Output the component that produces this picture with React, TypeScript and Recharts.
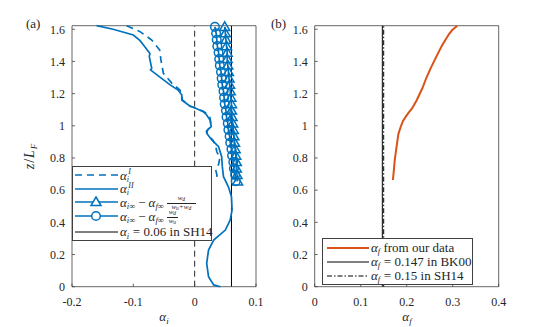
import React from 'react';
import { ScatterChart, Scatter, XAxis, YAxis, ReferenceLine, Legend } from 'recharts';

// ---------- data ----------
const zI = [1.622, 1.585, 1.533, 1.471, 1.409, 1.326, 1.264, 1.222, 1.19, 1.16, 1.123, 1.09, 1.07, 1.05, 1.0, 0.965, 0.94, 0.91, 0.88, 0.84, 0.8, 0.76, 0.73, 0.7, 0.665];
const aI = [-0.111, -0.089, -0.07, -0.057, -0.055, -0.051, -0.037, -0.024, -0.021, -0.02, -0.008, 0.014, 0.022, 0.025, 0.027, 0.019, 0.022, 0.03, 0.034, 0.036, 0.041, 0.039, 0.034, 0.036, 0.037];

const zII = [1.622, 1.6, 1.564, 1.529, 1.49, 1.45, 1.43, 1.357, 1.347, 1.295, 1.254, 1.222, 1.191, 1.16, 1.123, 1.115, 1.088, 1.067, 1.036, 0.994, 0.974, 0.953, 0.912, 0.87, 0.808, 0.75, 0.684, 0.621, 0.559, 0.477, 0.415, 0.352, 0.29, 0.228, 0.145, 0.062, 0.011, 0];
const aII = [-0.16, -0.133, -0.1, -0.089, -0.081, -0.073, -0.074, -0.07, -0.072, -0.054, -0.04, -0.027, -0.021, -0.021, -0.008, -0.002, 0.014, 0.0196, 0.025, 0.027, 0.021, 0.0196, 0.028, 0.039, 0.044, 0.045, 0.047, 0.055, 0.06, 0.061, 0.058, 0.05, 0.031, 0.0226, 0.0196, 0.0226, 0.031, 0.042];

const zMark = [0.655, 0.695, 0.735, 0.775, 0.815, 0.855, 0.895, 0.935, 0.975, 1.015, 1.055, 1.095, 1.135, 1.175, 1.215, 1.255, 1.295, 1.335, 1.375, 1.415, 1.455, 1.495, 1.535, 1.575, 1.615];
const aTri = [0.07, 0.069, 0.068, 0.068, 0.067, 0.066, 0.065, 0.064, 0.063, 0.062, 0.061, 0.06, 0.06, 0.059, 0.058, 0.057, 0.056, 0.055, 0.054, 0.053, 0.053, 0.052, 0.051, 0.05, 0.049];
const aCirc = [0.067, 0.066, 0.064, 0.063, 0.061, 0.06, 0.058, 0.057, 0.055, 0.054, 0.052, 0.051, 0.049, 0.048, 0.047, 0.045, 0.044, 0.043, 0.041, 0.04, 0.039, 0.037, 0.036, 0.035, 0.033];

const zF = [0.663, 0.72, 0.787, 0.85, 0.891, 0.95, 0.994, 1.03, 1.057, 1.085, 1.109, 1.16, 1.233, 1.3, 1.357, 1.41, 1.45, 1.5, 1.533, 1.57, 1.595, 1.622];
const aF = [0.17, 0.172, 0.174, 0.177, 0.179, 0.182, 0.187, 0.192, 0.198, 0.205, 0.212, 0.222, 0.234, 0.243, 0.252, 0.261, 0.268, 0.277, 0.284, 0.292, 0.299, 0.31];

const refAlphaI = [0, 0.06];
const refAlphaF = [0.147, 0.15];

const zTicks = [0, 0.2, 0.4, 0.6, 0.8, 1, 1.2, 1.4, 1.6];
const xTicksA = [-0.2, -0.1, 0, 0.1];
const xTicksB = [0, 0.1, 0.2, 0.3, 0.4];
const zDomain = [0, 1.622];

const pts = (xs: number[], zs: number[]) => xs.map((x, i) => ({ x, z: zs[i] }));

// ---------- style ----------
const BLUE = '#0072BD';
const ORANGE = '#D95319';
const AX = '#262626';
const FONT = "'Liberation Serif', 'DejaVu Serif', serif";
const tickStyle = { fontSize: 12, fill: AX, fontFamily: FONT };
const axLine = { stroke: '#404040', strokeWidth: 0.8 };
const LW = 1.7;

const NoMark = () => <g />;
const Tri = (p: any) => (
  <path d={`M${p.cx},${p.cy - 5} L${p.cx + 5},${p.cy + 3.6} L${p.cx - 5},${p.cy + 3.6} Z`} fill="none" stroke={BLUE} strokeWidth={1.5} />
);
const Circ = (p: any) => <circle cx={p.cx} cy={p.cy} r={4.3} fill="none" stroke={BLUE} strokeWidth={1.5} />;

// ---------- math text helpers ----------
const It = ({ children }: any) => <span style={{ fontStyle: 'italic' }}>{children}</span>;
const Sb = ({ children, size = 8.5, dy = 2.5 }: any) => (
  <span style={{ fontSize: size, lineHeight: `${size}px`, position: 'relative', top: dy, fontStyle: 'italic' }}>{children}</span>
);
const Eq = () => <span style={{ margin: '0 3.5px' }}>=</span>;
const Minus = () => <span style={{ margin: '0 3px' }}>−</span>;
const SubSup = ({ sub, sup, width }: any) => (
  <span style={{ position: 'relative', display: 'inline-block', width, height: 12, fontStyle: 'italic', fontSize: 8, lineHeight: '8px' }}>
    <span style={{ position: 'absolute', left: 1.5, top: 0.5 }}>{sup}</span>
    <span style={{ position: 'absolute', left: 0, top: 8 }}>{sub}</span>
  </span>
);
const Frac = ({ num, den, width }: any) => (
  <span style={{ position: 'relative', display: 'inline-block', width, height: 12, fontSize: 7, lineHeight: '7px', marginLeft: 3 }}>
    <span style={{ position: 'absolute', left: 0, right: 0, top: 0, textAlign: 'center' }}>{num}</span>
    <span style={{ position: 'absolute', left: 0, right: 0, top: 8, borderTop: '0.7px solid #262626' }} />
    <span style={{ position: 'absolute', left: 0, right: 0, top: 9, textAlign: 'center', whiteSpace: 'nowrap' }}>{den}</span>
  </span>
);
const w = (s: string) => (
  <span>
    <It>w</It>
    <span style={{ fontSize: 5.5, lineHeight: '5.5px', position: 'relative', top: 1, fontStyle: 'italic' }}>{s}</span>
  </span>
);

const Sample = ({ stroke, width = LW, dash, marker, x1 = 2, x2 = 45, mx = 23 }: any) => (
  <svg width={x2 + 2} height={12} style={{ display: 'block', flex: 'none' }}>
    <line x1={x1} x2={x2} y1={6} y2={6} stroke={stroke} strokeWidth={width} strokeDasharray={dash} />
    {marker === 'tri' && <path d={`M${mx},1 L${mx + 5},9.6 L${mx - 5},9.6 Z`} fill="#fff" stroke={BLUE} strokeWidth={1.5} />}
    {marker === 'circ' && <circle cx={mx} cy={6} r={4.3} fill="#fff" stroke={BLUE} strokeWidth={1.5} />}
  </svg>
);

const Row = ({ cy, children }: any) => (
  <div style={{ position: 'absolute', left: 0, top: cy - 7, height: 14, display: 'flex', alignItems: 'center', whiteSpace: 'nowrap', lineHeight: '14px' }}>
    {children}
  </div>
);

const LeftLegend = () => (
  <div style={{ position: 'relative', width: 138, height: 73, border: '1px solid #404040', background: '#fff', fontFamily: FONT, fontSize: 13, color: AX }}>
    <Row cy={8.5}>
      <Sample stroke={BLUE} dash="7 5" />
      <span><It>α</It><SubSup sub="i" sup="I" width={6} /></span>
    </Row>
    <Row cy={22}>
      <Sample stroke={BLUE} />
      <span><It>α</It><SubSup sub="i" sup="II" width={8} /></span>
    </Row>
    <Row cy={35.5}>
      <Sample stroke={BLUE} marker="tri" />
      <span>
        <It>α</It><Sb>i∞</Sb><Minus /><It>α</It><Sb>f∞</Sb>
        <Frac width={29} num={w('d')} den={<span>{w('u')}<span style={{ margin: '0 0.5px' }}>+</span>{w('d')}</span>} />
      </span>
    </Row>
    <Row cy={49.5}>
      <Sample stroke={BLUE} marker="circ" />
      <span>
        <It>α</It><Sb>i∞</Sb><Minus /><It>α</It><Sb>f∞</Sb>
        <Frac width={11} num={w('d')} den={w('u')} />
      </span>
    </Row>
    <Row cy={65.5}>
      <Sample stroke="#000" width={1} />
      <span><It>α</It><Sb>i</Sb><Eq />0.06 in SH14</span>
    </Row>
  </div>
);

const RightLegend = () => (
  <div style={{ position: 'relative', width: 149, height: 45, border: '1px solid #404040', background: '#fff', fontFamily: FONT, fontSize: 13, color: AX }}>
    <Row cy={8.5}>
      <Sample stroke={ORANGE} width={2} x1={4} x2={46} />
      <span><It>α</It><Sb>f</Sb> from our data</span>
    </Row>
    <Row cy={22.5}>
      <Sample stroke="#000" width={1} x1={4} x2={46} />
      <span><It>α</It><Sb>f</Sb><Eq />0.147 in BK00</span>
    </Row>
    <Row cy={36.5}>
      <Sample stroke="#000" width={1} dash="5 2 1.5 2" x1={4} x2={46} />
      <span><It>α</It><Sb>f</Sb><Eq />0.15 in SH14</span>
    </Row>
  </div>
);

const emptyFmt = () => '';

export default function App() {
  return (
    <div style={{ position: 'absolute', left: 0, top: 0, width: 552, height: 327, background: '#fff', fontFamily: FONT, color: AX }}>
      <div style={{ position: 'absolute', left: 0, top: 0 }}>
        <ScatterChart width={276} height={327} margin={{ top: 24.7, right: 19, bottom: 10.3, left: 32 }} style={{ fontFamily: FONT }}>
          <XAxis type="number" dataKey="x" domain={[-0.2, 0.1]} ticks={xTicksA} height={30} tickSize={-3} tickMargin={14} tick={tickStyle} axisLine={axLine} tickLine={axLine} />
          <XAxis xAxisId="top" orientation="top" type="number" dataKey="x" domain={[-0.2, 0.1]} ticks={xTicksA} height={1} tickSize={-3} tickFormatter={emptyFmt} axisLine={axLine} tickLine={axLine} />
          <YAxis type="number" dataKey="z" domain={zDomain} ticks={zTicks} width={40} tickSize={-3} tickMargin={10} tick={tickStyle} axisLine={axLine} tickLine={axLine} />
          <YAxis yAxisId="right" orientation="right" type="number" dataKey="z" domain={zDomain} ticks={zTicks} width={1} tickSize={-3} tickFormatter={emptyFmt} axisLine={axLine} tickLine={axLine} />
          <ReferenceLine x={refAlphaI[0]} stroke={AX} strokeWidth={1} strokeDasharray="6 4" />
          <Scatter data={pts(aI, zI)} fill={BLUE} shape={NoMark} line={{ stroke: BLUE, strokeWidth: LW, strokeDasharray: '7 5' }} isAnimationActive={false} />
          <Scatter data={pts(aII, zII)} fill={BLUE} shape={NoMark} line={{ stroke: BLUE, strokeWidth: LW }} isAnimationActive={false} />
          <Scatter data={pts(aTri, zMark)} fill={BLUE} shape={Tri} line={{ stroke: BLUE, strokeWidth: LW }} isAnimationActive={false} />
          <Scatter data={pts(aCirc, zMark)} fill={BLUE} shape={Circ} line={{ stroke: BLUE, strokeWidth: LW }} isAnimationActive={false} />
          <ReferenceLine x={refAlphaI[1]} stroke="#000" strokeWidth={1} />
          <Legend content={() => <LeftLegend />} layout="horizontal" verticalAlign="middle" align="center" width={140} height={75} wrapperStyle={{ left: 72, top: 165.7, width: 140, height: 75 }} />
        </ScatterChart>
      </div>
      <div style={{ position: 'absolute', left: 276, top: 0 }}>
        <ScatterChart width={276} height={327} margin={{ top: 24.7, right: 52.3, bottom: 10.3, left: 8.7 }} style={{ fontFamily: FONT }}>
          <XAxis type="number" dataKey="x" domain={[0, 0.4]} ticks={xTicksB} height={30} tickSize={-3} tickMargin={14} tick={tickStyle} axisLine={axLine} tickLine={axLine} />
          <XAxis xAxisId="top" orientation="top" type="number" dataKey="x" domain={[0, 0.4]} ticks={xTicksB} height={1} tickSize={-3} tickFormatter={emptyFmt} axisLine={axLine} tickLine={axLine} />
          <YAxis type="number" dataKey="z" domain={zDomain} ticks={zTicks} width={30} tickSize={-3} tickMargin={10} tick={tickStyle} axisLine={axLine} tickLine={axLine} />
          <YAxis yAxisId="right" orientation="right" type="number" dataKey="z" domain={zDomain} ticks={zTicks} width={1} tickSize={-3} tickFormatter={emptyFmt} axisLine={axLine} tickLine={axLine} />
          <ReferenceLine x={refAlphaF[0]} stroke="#000" strokeWidth={1} />
          <ReferenceLine x={refAlphaF[1]} stroke="#000" strokeWidth={1} strokeDasharray="5 2 1.5 2" />
          <Scatter data={pts(aF, zF)} fill={ORANGE} shape={NoMark} line={{ stroke: ORANGE, strokeWidth: 2 }} isAnimationActive={false} />
          <Legend content={() => <RightLegend />} layout="horizontal" verticalAlign="middle" align="center" width={151} height={47} wrapperStyle={{ left: 46, top: 238, width: 151, height: 47 }} />
        </ScatterChart>
      </div>
      {/* panel labels and axis titles */}
      <div style={{ position: 'absolute', left: 26, top: 17, fontSize: 13, lineHeight: '13px' }}>(a)</div>
      <div style={{ position: 'absolute', left: 271, top: 17, fontSize: 13, lineHeight: '13px' }}>(b)</div>
      <div style={{ position: 'absolute', left: 164, top: 310, transform: 'translateX(-50%)', fontSize: 13, lineHeight: '13px', whiteSpace: 'nowrap' }}>
        <It>α</It><Sb size={9} dy={3}>i</Sb>
      </div>
      <div style={{ position: 'absolute', left: 407, top: 310, transform: 'translateX(-50%)', fontSize: 13, lineHeight: '13px', whiteSpace: 'nowrap' }}>
        <It>α</It><Sb size={9} dy={3}>f</Sb>
      </div>
      <div style={{ position: 'absolute', left: 30, top: 156, transform: 'translate(-50%, -50%) rotate(-90deg)', fontSize: 14, lineHeight: '14px', whiteSpace: 'nowrap', letterSpacing: 1 }}>
        <It>z</It>/<It>L</It><Sb size={9} dy={3}>F</Sb>
      </div>
    </div>
  );
}
